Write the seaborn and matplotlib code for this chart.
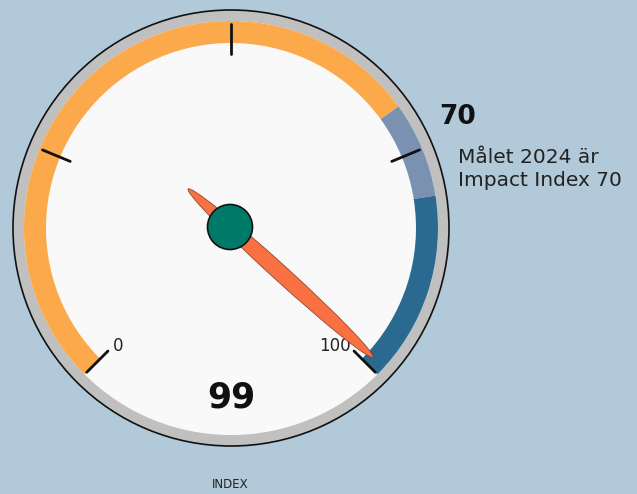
import numpy as np
import pandas as pd
import seaborn as sns
import matplotlib.pyplot as plt
from matplotlib.patches import Wedge, Circle, Ellipse

# Gauge data
band_edges = [0, 70, 80, 100]
band_colors = ["#fba94b", "#7b91b2", "#2a6990"]
tick_values = [0, 25, 50, 75, 100]
tick_labels = {0: "0", 100: "100"}
value = 99
target = 70
target_text = "Målet 2024 är\nImpact Index 70"
axis_title = "INDEX"

# Layout (pixels, y up)
W, H = 637, 494
CX, CY = 231, 266
R_OUT, R_FACE, R_BAND_IN = 218, 207, 185
START, SWEEP = 225, 270
BG = "#b1c9d8"


def val_to_angle(v):
    """Value on the 0..100 scale -> angle in degrees (counter clockwise)."""
    return START - SWEEP * v / 100.0


def polar(r, ang):
    a = np.deg2rad(ang)
    return CX + r * np.cos(a), CY + r * np.sin(a)


sns.set_theme(style="white")
plt.rcParams["font.family"] = ["DejaVu Sans"]

fig = plt.figure(figsize=(W / 100, H / 100), dpi=100)
fig.patch.set_facecolor(BG)
ax = fig.add_axes([0, 0, 1, 1])

# rim and face
ax.add_patch(Circle((CX, CY), R_OUT, facecolor="#c0c0c0", edgecolor="#111111", lw=1.2, zorder=1))
ax.add_patch(Circle((CX, CY), R_FACE, facecolor="#f9f9f9", edgecolor="none", zorder=2))

# colour bands
for lo, hi, col in zip(band_edges[:-1], band_edges[1:], band_colors):
    ax.add_patch(Wedge((CX, CY), R_FACE, val_to_angle(hi), val_to_angle(lo),
                       width=R_FACE - R_BAND_IN, facecolor=col, edgecolor="none", zorder=3))

# ticks
rows = []
for t in tick_values:
    ang = val_to_angle(t)
    for r in (174, 204):
        x, y = polar(r, ang)
        rows.append({"tick": t, "x": x, "y": y})
ticks_df = pd.DataFrame(rows)
sns.lineplot(data=ticks_df, x="x", y="y", units="tick", estimator=None,
             color="#111111", lw=2, sort=False, ax=ax, zorder=4)
ax.set_xlim(0, W)
ax.set_ylim(0, H)
ax.set_aspect("equal")
ax.axis("off")

# tick labels
x0, y0 = polar(168, val_to_angle(0))
ax.text(x0 + 1, y0 + 1, tick_labels[0], fontsize=12, color="#222222",
        ha="left", va="center", zorder=5)
x1, y1 = polar(168, val_to_angle(100))
ax.text(x1 + 1, y1 + 1, tick_labels[100], fontsize=12, color="#222222",
        ha="right", va="center", zorder=5)

# needle
ang = val_to_angle(value)
tip, tail = 192, 58
mid = (tip - tail) / 2
mx, my = polar(mid, ang)
ax.add_patch(Ellipse((mx, my), tip + tail, 16, angle=ang, facecolor="#f97142",
                     edgecolor="#7a3a20", lw=0.5, zorder=6))
ax.add_patch(Circle((CX - 1, CY + 1), 22.5, facecolor="#007a68", edgecolor="#111111", lw=1.2, zorder=7))

# value
ax.text(CX, H - 397, f"{value}", fontsize=25, fontweight="bold", color="#111111",
        ha="center", va="center", zorder=5)

# target annotation
ax.text(439, H - 117, f"{target}", fontsize=19, fontweight="bold", color="#111111",
        ha="left", va="center")
ax.text(458, H - 169, target_text, fontsize=14.5, color="#222222",
        ha="left", va="center", linespacing=1.25)

# axis title (partly cut at bottom in the original)
ax.text(230, H - 485, axis_title, fontsize=8.5, color="#222222", ha="center", va="center")

fig.savefig("out.png", dpi=100, facecolor=BG)
